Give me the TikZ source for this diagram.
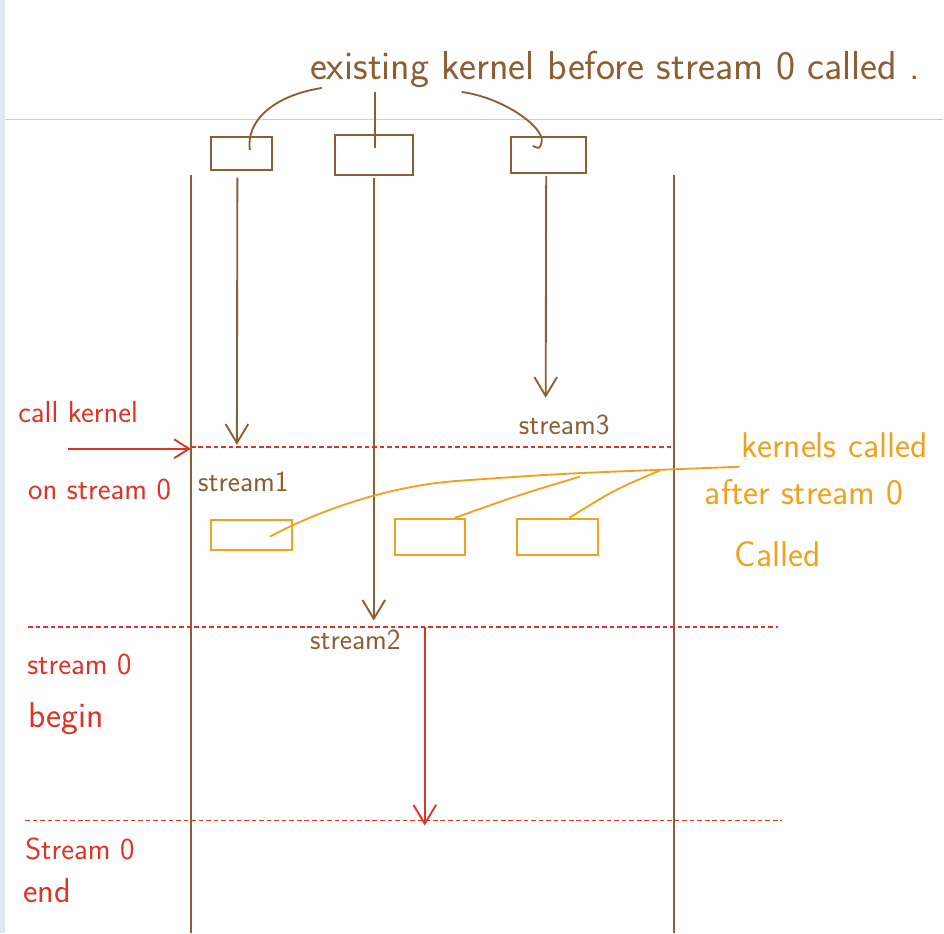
\documentclass[tikz,border=0pt]{standalone}
\usepackage{tikz}
\usetikzlibrary{calc,arrows.meta}
\definecolor{kbrown}{RGB}{139,94,52}
\definecolor{kred}{RGB}{222,52,40}
\definecolor{korange}{RGB}{240,162,30}
\definecolor{sidebar}{RGB}{226,230,240}
\definecolor{rulegray}{RGB}{205,205,210}
\def\drawrail{\draw[rail]}
\def\drawcall{\draw[callline]}
\def\drawsync{\draw[syncline]}
\def\drawlater{\draw[laterline]}
\def\oldnode{\node[oldkernel]}
\def\newnode{\node[newkernel]}

\begin{document}
\begin{tikzpicture}[x=0.0265cm,y=-0.0265cm,
  rail/.style={color=kbrown, line width=1.4pt},
  callline/.style={color=kred, line width=1.4pt},
  syncline/.style={color=kred, line width=1.3pt, dash pattern=on 3.5pt off 2.2pt},
  laterline/.style={color=korange, line width=1.4pt},
  oldkernel/.style={draw=kbrown, line width=1.4pt, inner sep=0pt},
  newkernel/.style={draw=korange, line width=1.4pt, inner sep=0pt},
  hand/.style={font=\fontsize{23}{26}\selectfont\sffamily, inner sep=0pt, anchor=base west},
  >={Straight Barb[length=5mm,width=6mm]}]
% page background: side strip and header rule
\fill[sidebar] (0,0) rectangle (5,934);
\draw[rulegray, line width=0.8pt] (5,120) -- (944,120);
\useasboundingbox (0,0) rectangle (944,934);

% ---------- existing kernels (brown)
\node[hand, text=kbrown, font=\fontsize{30.5}{34}\selectfont\sffamily] (title) at (310,80) {existing kernel before stream 0 called .};
\oldnode[minimum width=1.62cm, minimum height=0.87cm] (k1) at (241.5,153.5) {};
\oldnode[minimum width=2.07cm, minimum height=1.06cm] (k2) at (374,155) {};
\oldnode[minimum width=1.99cm, minimum height=0.95cm] (k3) at (548.5,155) {};

\coordinate (tl) at (322,88); % start of each pointer under the title
\coordinate (tm) at (375,92);
\coordinate (tr) at (462,92);
\coordinate (k1in) at (250,150);
\coordinate (k2in) at (375,148);
\coordinate (k3in) at (533,146);
\drawrail (tl) .. controls (272,96) and (246,122) .. (k1in);
\drawrail (tm) -- (k2in);
\drawrail (tr) .. controls (505,98) and (545,128) .. (542,142) .. controls (540,149) .. (k3in);

% the two streams' rails
\coordinate (railL) at (191,175);
\coordinate (railLend) at (191,934);
\coordinate (railR) at (674,175);
\coordinate (railRend) at (674,934);
\drawrail (railL) -- (railLend);
\drawrail (railR) -- (railRend);

% where the old kernels end
\coordinate (s1end) at (237,445);
\coordinate (s2end) at (374,621);
\coordinate (s3end) at (546,398);
\drawrail[->] ($ (k1.south) + (-4,7) $) -- (s1end);
\drawrail[->] ($ (k2.south) + (0,2) $) -- (s2end);
\drawrail[->] ($ (k3.south) + (-2,2) $) -- (s3end);
\node[hand, text=kbrown, font=\fontsize{22}{26}\selectfont\sffamily] (s1) at (198,492) {stream1};
\node[hand, text=kbrown, font=\fontsize{22}{26}\selectfont\sffamily] (s2) at (310,650) {stream2};
\node[hand, text=kbrown, font=\fontsize{22}{26}\selectfont\sffamily] (s3) at (519,435) {stream3};

% ---------- stream 0 (red)
\coordinate (callstart) at (68,449);
\coordinate (callhit) at (191,449);
\drawcall[-{Straight Barb[length=4mm,width=5mm]}] (callstart) -- (callhit);
\coordinate (syncA) at (191,447);
\coordinate (syncAend) at (674,447);
\coordinate (syncB) at (28,627);
\coordinate (syncBend) at (778,627);
\coordinate (syncC) at (25,821);
\coordinate (syncCend) at (782,821);
\drawsync (syncA) -- (syncAend);
\drawsync (syncB) -- (syncBend);
\drawsync (syncC) -- (syncCend);
\coordinate (runtop) at (425,627);
\coordinate (runend) at (425,826);
\drawcall[->] (runtop) -- (runend);

\node[hand, text=kred] (callk) at (18,423) {call kernel};
\node[hand, text=kred] (onst) at (28,500) {on stream 0};
\node[hand, text=kred] (begA) at (27,675) {stream 0};
\node[hand, text=kred, font=\fontsize{27}{30}\selectfont\sffamily] (begB) at (28,728) {begin};
\node[hand, text=kred] (endA) at (25,860) {Stream 0};
\node[hand, text=kred, font=\fontsize{26}{30}\selectfont\sffamily] (endB) at (23,903) {end};

% ---------- kernels called later (orange)
\newnode[minimum width=2.15cm, minimum height=0.8cm] (n1) at (251.5,535.5) {};
\newnode[minimum width=1.86cm, minimum height=0.95cm] (n2) at (430,537) {};
\newnode[minimum width=2.15cm, minimum height=0.95cm] (n3) at (557.5,537) {};
\coordinate (hub) at (662,470); % where the three pointers meet
\coordinate (callout) at (740,467);
\drawlater (270,537) .. controls (330,505) and (400,485) .. (460,481) .. controls (560,474) .. (hub);
\drawlater ($ (n2.north) + (25,0) $) .. controls (520,495) .. (580,477);
\drawlater ($ (n3.north) + (12,0) $) .. controls (615,490) .. (hub);
\drawlater (hub) -- (callout);
\node[hand, text=korange, font=\fontsize{27}{30}\selectfont\sffamily] (laterA) at (742,458) {kernels called};
\node[hand, text=korange, font=\fontsize{27}{30}\selectfont\sffamily] (laterB) at (705,505) {after stream 0};
\node[hand, text=korange, font=\fontsize{27}{30}\selectfont\sffamily] (laterC) at (735,567) {Called};
\end{tikzpicture}
\end{document}
